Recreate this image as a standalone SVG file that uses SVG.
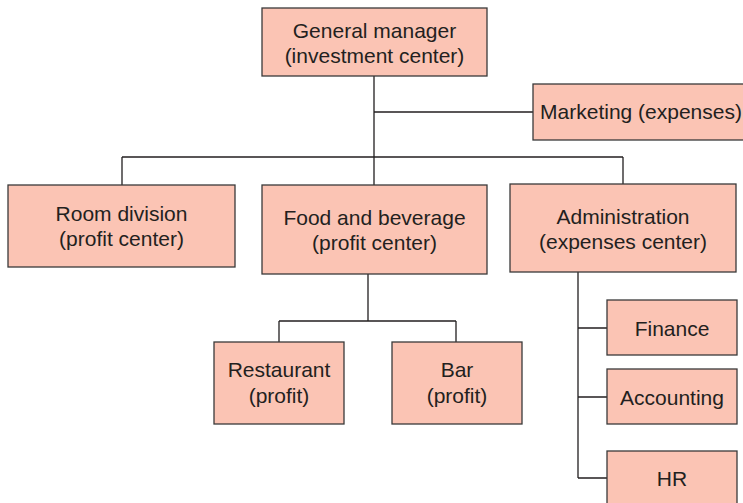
<svg xmlns="http://www.w3.org/2000/svg" width="743" height="503" viewBox="0 0 743 503">
<style>
.box{fill:#fbc4b4;stroke:#3a3a3a;stroke-width:1.3}
.t{font-family:"Liberation Sans",Arial,sans-serif;font-size:21px;fill:#231f20;text-anchor:middle}
.c{fill:none;stroke:#231f20;stroke-width:1.3}
</style>
<rect width="743" height="503" fill="#fff"/>
<g id="connectors">
<path class="c" d="M374 76V185M374 112H533M122 157H623M122 157V185M623 157V184"/>
<path class="c" d="M368 274V321M279 321H456M279 321V342M456 321V342"/>
<path class="c" d="M578 272V478M578 328H607M578 397H607M578 478H607"/>
</g>
<g id="gm"><rect class="box" x="262" y="8" width="225" height="68"/><text class="t" x="374.5" y="38">General manager</text><text class="t" x="374.5" y="63">(investment center)</text></g>
<g id="marketing"><rect class="box" x="533" y="84" width="215" height="56"/><text class="t" x="641" y="119">Marketing (expenses)</text></g>
<g id="room"><rect class="box" x="8" y="185" width="227" height="82"/><text class="t" x="121.5" y="221">Room division</text><text class="t" x="121.5" y="246">(profit center)</text></g>
<g id="fb"><rect class="box" x="262" y="185" width="225" height="89"/><text class="t" x="374.5" y="225">Food and beverage</text><text class="t" x="374.5" y="250">(profit center)</text></g>
<g id="admin"><rect class="box" x="510" y="184" width="226" height="88"/><text class="t" x="623" y="224">Administration</text><text class="t" x="623" y="249">(expenses center)</text></g>
<g id="restaurant"><rect class="box" x="214" y="342" width="130" height="82"/><text class="t" x="279" y="377">Restaurant</text><text class="t" x="279" y="403">(profit)</text></g>
<g id="bar"><rect class="box" x="392" y="342" width="130" height="82"/><text class="t" x="457" y="377">Bar</text><text class="t" x="457" y="403">(profit)</text></g>
<g id="finance"><rect class="box" x="607" y="300" width="130" height="55"/><text class="t" x="672" y="336">Finance</text></g>
<g id="accounting"><rect class="box" x="607" y="369" width="130" height="55"/><text class="t" x="672" y="405">Accounting</text></g>
<g id="hr"><rect class="box" x="607" y="451" width="130" height="60"/><text class="t" x="672" y="486">HR</text></g>
</svg>
